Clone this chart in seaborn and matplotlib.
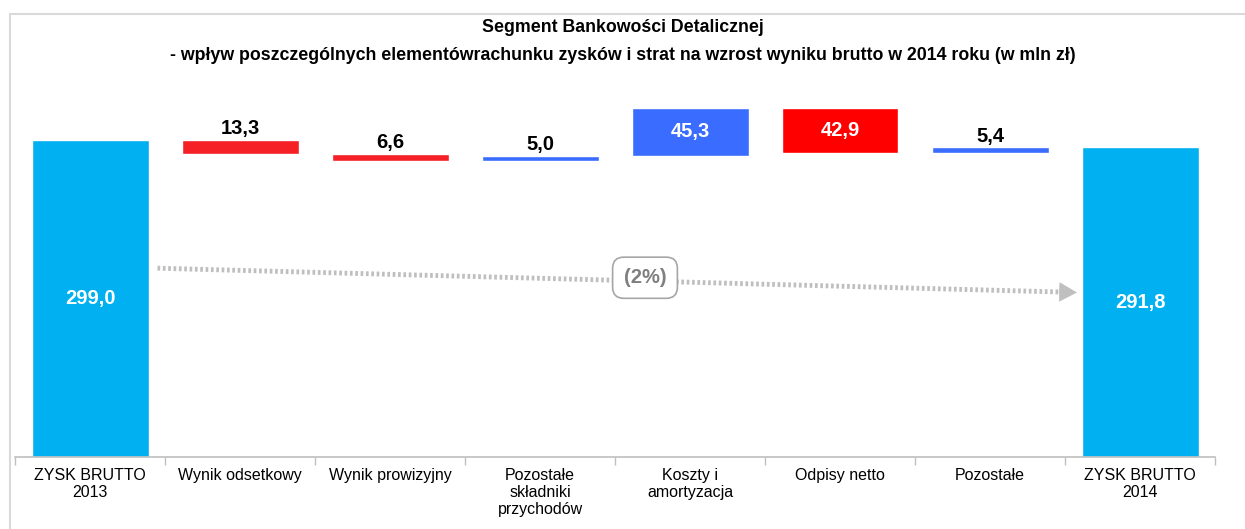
import matplotlib
matplotlib.use("Agg")
import matplotlib.pyplot as plt
import seaborn as sns
import pandas as pd

# Data
categories = ["ZYSK BRUTTO\n2013", "Wynik odsetkowy", "Wynik prowizyjny",
              "Pozostałe\nskładniki\nprzychodów", "Koszty i\namortyzacja",
              "Odpisy netto", "Pozostałe", "ZYSK BRUTTO\n2014"]
start_value = 299.0
changes = [-13.3, -6.6, 5.0, 45.3, -42.9, 5.4]
end_value = 291.8
value_labels = ["299,0", "13,3", "6,6", "5,0", "45,3", "42,9", "5,4", "291,8"]
bar_colors = ["#00B0F0", "#F51F26", "#F51F26", "#3A6CFF", "#3A6CFF",
              "#FF0000", "#3A6CFF", "#00B0F0"]
change_label = "(2%)"

# Waterfall bottoms / heights
bottoms, heights = [0.0], [start_value]
level = start_value
for c in changes:
    if c < 0:
        bottoms.append(level + c)
    else:
        bottoms.append(level)
    heights.append(abs(c))
    level += c
bottoms.append(0.0)
heights.append(end_value)

df = pd.DataFrame({"cat": categories, "height": heights, "bottom": bottoms})

sns.set_theme(style="white")
plt.rcParams["font.family"] = ["Liberation Sans", "DejaVu Sans"]
plt.rcParams["text.color"] = "black"

fig = plt.figure(figsize=(12.45, 5.29), dpi=100)
ax = fig.add_axes([15 / 1245, 72 / 529, 1200 / 1245, 367 / 529])

sns.barplot(data=df, x="cat", y="height", hue="cat", palette=bar_colors,
            legend=False, width=0.78, ax=ax, saturation=1)
for p, b in zip(ax.patches, bottoms):
    p.set_y(b)

ax.set_ylim(0, 346)
ax.set_xlim(-0.5, len(categories) - 0.5)
ax.set_xlabel("")
ax.set_ylabel("")
ax.set_yticks([])
for s in ["top", "right", "left"]:
    ax.spines[s].set_visible(False)
ax.spines["bottom"].set_color("#BFBFBF")
ax.spines["bottom"].set_linewidth(1.2)

# category boundary ticks
ax.set_xticks([i + 0.5 for i in range(-1, len(categories))], minor=True)
ax.tick_params(axis="x", which="minor", bottom=True, length=6, color="#BFBFBF", width=1)
ax.tick_params(axis="x", which="major", bottom=False, labelsize=11.5, pad=2)
ax.set_xticks(range(len(categories)))
ax.set_xticklabels(categories, color="#000000", linespacing=1.15)

# value labels
for i, (b, h, lab) in enumerate(zip(bottoms, heights, value_labels)):
    if i in (0, len(categories) - 1):
        ax.text(i, h / 2, lab, ha="center", va="center", color="white",
                fontsize=14.5, fontweight="bold")
    elif h > 20:
        ax.text(i, b + h / 2, lab, ha="center", va="center", color="white",
                fontsize=14.5, fontweight="bold")
    else:
        ax.text(i, b + h + 1.5, lab, ha="center", va="bottom", color="black",
                fontsize=14.5, fontweight="bold")

# trend arrow (dotted line + head)
x0, y0, x1, y1 = 0.45, 178, 6.46, 155.6
ax.plot([x0, x1], [y0, y1], color="#BFBFBF", lw=3.5,
        linestyle=(0, (0.55, 0.55)), solid_capstyle="butt", zorder=2)
ax.annotate("", xy=(6.58, 155.1), xytext=(x1, y1),
            arrowprops=dict(arrowstyle="-|>,head_length=1.0,head_width=0.55",
                            color="#BFBFBF", lw=0.5, shrinkA=0, shrinkB=0))
ax.text(3.70, 169, change_label, ha="center", va="center", color="#7F7F7F",
        fontsize=14.5, fontweight="bold", zorder=4,
        bbox=dict(boxstyle="round,pad=0.55,rounding_size=0.55", fc="white",
                  ec="#A6A6A6", lw=1.2))

# title
fig.text(0.5, 1 - 28 / 529, "Segment Bankowości Detalicznej", ha="center", va="center",
         fontsize=12.8, fontweight="bold", color="black")
fig.text(0.5, 1 - 55 / 529, "- wpływ poszczególnych elementówrachunku zysków i strat na wzrost "
         "wyniku brutto w 2014 roku (w mln zł)", ha="center", va="center",
         fontsize=12.8, fontweight="bold", color="black")

# frame lines (left and top)
fig.add_artist(plt.Line2D([10 / 1245, 10 / 1245], [0, 1 - 14 / 529],
                          transform=fig.transFigure, color="#D9D9D9", lw=1.5))
fig.add_artist(plt.Line2D([10 / 1245, 1], [1 - 14 / 529, 1 - 14 / 529],
                          transform=fig.transFigure, color="#D9D9D9", lw=1.5))

fig.savefig("out.png", dpi=100)
